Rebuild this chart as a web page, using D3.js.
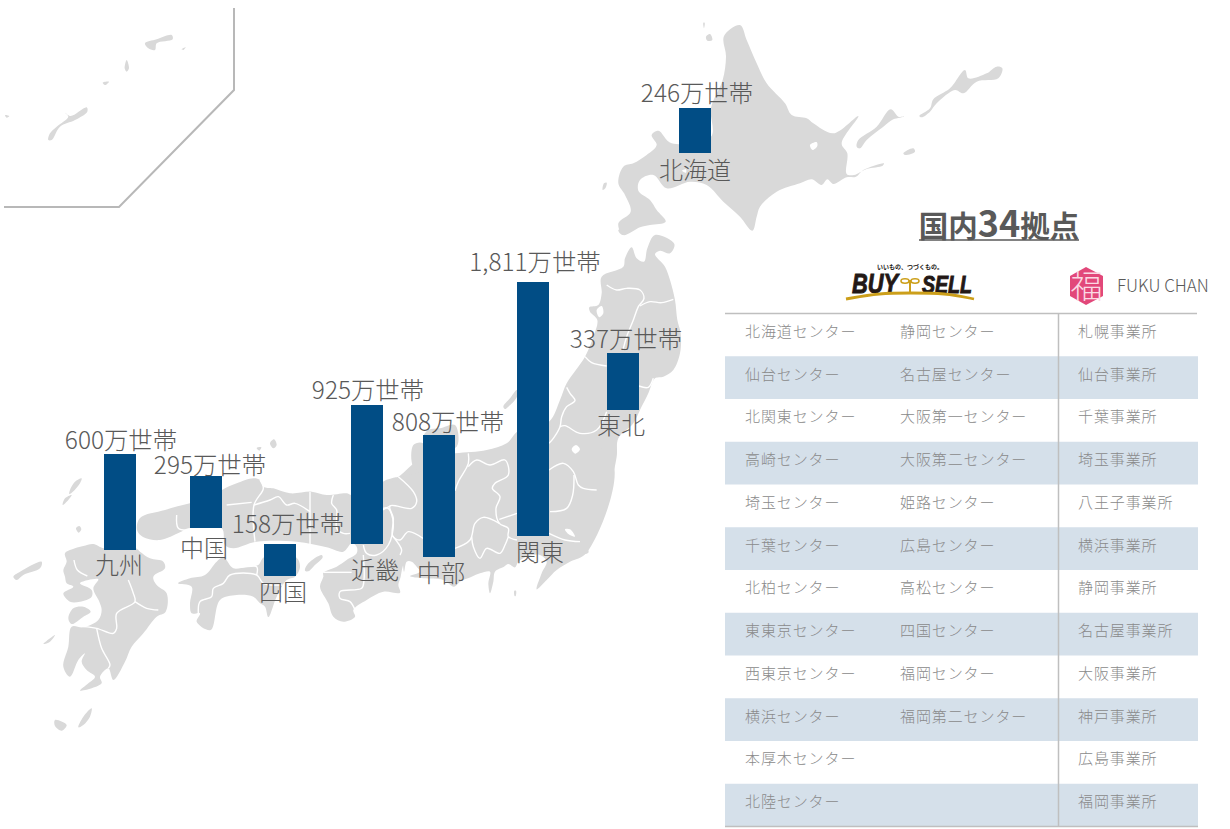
<!DOCTYPE html>
<html lang="ja"><head><meta charset="utf-8">
<script src="https://cdn.jsdelivr.net/npm/d3@7/dist/d3.min.js"></script>
<style>html,body{margin:0;padding:0;background:#fff}svg{display:block}text{font-family:"Noto Sans CJK JP","Noto Sans",sans-serif}</style>
</head><body><svg id="c" width="1230" height="829"></svg>
<script>
// ---- chart data
const regions = ["北海道","東北","関東","中部","近畿","中国","四国","九州"];
const households = [246,337,1811,808,925,295,158,600];
const valueSuffix = "万世帯";
const tableTitle = ["国内","34","拠点"];
const buySellCenters = ["北海道センター","仙台センター","北関東センター","高崎センター","埼玉センター","千葉センター","北柏センター","東東京センター","西東京センター","横浜センター","本厚木センター","北陸センター"];
const buySellCenters2 = ["静岡センター","名古屋センター","大阪第一センター","大阪第二センター","姫路センター","広島センター","高松センター","四国センター","福岡センター","福岡第二センター","",""];
const fukuOffices = ["札幌事業所","仙台事業所","千葉事業所","埼玉事業所","八王子事業所","横浜事業所","静岡事業所","名古屋事業所","大阪事業所","神戸事業所","広島事業所","福岡事業所"];

// ---- placement of each region's bar on the map (layout, not data)
const barLeft   = [679,607,517,423,351,190,264,104];
const barBottom = [153,410,536,557,544,528,576,550];
const valueCx   = [697,626,535,448,368,210,288,121];
const valueBase = [102,348,271,431,399,474,533,449];
const nameCx    = [695,621,540,441,375,204,283,119];
const nameBase  = [179,434,561,582,579,557,601,574];

// ---- base map: coast and border tracings, grouped by tracing sheet [ox, oy] at 3x
const sheetH=[600,20], sheetE=[340,230], sheetC=[380,430], sheetW=[180,470], sheetK=[0,420], sheetO=[0,0];
const land = [
 [sheetH,[[420,15],[372,48],[378,110],[368,180],[333,264],[333,350],[215,370],[175,332],[155,345],[170,375],[140,405],[100,430],[70,440],[55,490],[75,525],[92,575],[55,610],[70,645],[120,622],[150,615],[197,605],[170,570],[150,540],[115,512],[120,480],[160,465],[200,505],[270,485],[320,495],[370,545],[420,590],[457,632],[470,590],[480,560],[530,515],[600,490],[635,478],[665,495],[682,478],[700,492],[740,472],[768,470],[790,450],[852,430],[848,437],[800,447],[762,465],[740,462],[742,400],[725,370],[775,288],[700,340],[640,310],[620,295],[575,285],[555,250],[500,190],[470,130],[440,60]]],
 [sheetH,[[770,380],[775,360],[830,320],[872,268],[895,290],[912,290],[880,298],[850,320],[800,360],[780,385]]],
 [sheetH,[[958,288],[990,265],[1000,238],[1050,205],[1095,150],[1105,175],[1160,160],[1190,140],[1207,145],[1195,175],[1130,185],[1090,220],[1065,210],[1010,250],[990,275],[965,292]]],
 [sheetH,[[910,400],[940,385],[945,395],[915,405]]],
 [sheetH,[[318,50],[330,42],[337,60],[322,62]]],
 [sheetH,[[310,8],[314,8],[312,25]]],
 [sheetH,[[8,510],[12,490],[20,488],[16,505]]],
 [sheetE,[[855,85],[875,52],[890,85],[912,95],[922,55],[945,15],[1003,42],[990,70],[960,62],[945,72],[975,110],[990,150],[1005,210],[1012,270],[1022,310],[1020,370],[1000,420],[970,440],[945,445],[925,490],[900,540],[880,580],[835,625],[830,680],[815,740],[780,790],[745,825],[725,880],[730,930],[745,968],[640,960],[531,960],[531,610],[627,575],[660,510],[680,460],[735,380],[760,320],[772,270],[750,245],[748,232],[775,225],[785,190],[785,140],[850,110]]],
 [sheetE,[[835,0],[868,0],[860,12],[845,14]]],
 [sheetE,[[490,530],[510,505],[530,480],[531,500],[505,530],[495,537]]],
 [sheetC,[[620,368],[570,395],[530,420],[500,450],[470,478],[485,430],[500,395],[480,375],[445,378],[415,395],[405,412],[385,402],[372,410],[345,425],[340,455],[330,490],[325,460],[330,425],[300,430],[275,440],[240,455],[222,470],[190,450],[130,445],[90,438],[120,425],[110,410],[95,395],[80,395],[72,425],[66,385],[55,365],[45,385],[55,400],[40,420],[0,480],[0,165],[40,143],[55,140],[130,80],[225,70],[320,60],[380,40],[420,0],[560,0],[700,100]]],
 [sheetC,[[129,120],[129,40],[100,45],[100,110]]],
 [sheetC,[[403,482],[408,482],[407,498],[404,498]]],
 [sheetE,[[250,620],[265,600],[300,595],[345,585],[350,650],[260,650]]],
 [sheetW,[[-120,144],[-129,180],[-111,201],[-60,210],[0,187],[25,175],[125,175],[135,225],[160,235],[230,215],[350,215],[440,232],[490,245],[515,220],[530,230],[530,250],[500,270],[470,290],[430,308],[430,320],[420,350],[445,400],[460,440],[490,455],[525,440],[520,420],[560,390],[610,365],[660,368],[655,345],[662,320],[668,290],[690,240],[730,240],[730,0],[720,5],[655,25],[630,40],[609,60],[513,75],[500,70],[440,75],[395,65],[330,70],[280,55],[250,50],[240,30],[220,25],[170,40],[126,60],[90,90],[30,100],[-45,120]]],
 [sheetW,[[-6,340],[30,325],[75,315],[110,275],[130,262],[160,295],[200,290],[235,285],[252,262],[348,262],[360,290],[345,320],[320,330],[290,380],[265,441],[255,410],[240,400],[220,380],[170,375],[120,390],[92,480],[50,455],[60,430],[35,430],[30,400],[35,350]]],
 [sheetW,[[375,302],[385,280],[425,255],[428,262],[400,290],[385,304]]],
 [sheetK,[[225,385],[250,378],[280,372],[312,385],[408,385],[420,395],[450,415],[490,425],[495,445],[460,470],[470,495],[500,520],[497,575],[470,590],[430,640],[395,680],[375,725],[340,780],[325,745],[300,770],[305,790],[240,812],[265,790],[285,770],[260,750],[245,725],[255,700],[235,720],[210,770],[190,740],[205,680],[215,620],[250,622],[295,600],[305,570],[298,545],[280,505],[295,478],[265,480],[240,490],[275,510],[275,530],[240,545],[210,545],[190,520],[220,500],[200,490],[195,470],[190,450],[200,425],[195,400]]],
 [sheetK,[[205,595],[220,565],[250,560],[272,575],[250,590],[215,612]]],
 [sheetK,[[245,175],[225,185],[212,205],[208,222],[222,212],[240,190]]],
 [sheetK,[[188,255],[195,235],[215,225],[205,240]]],
 [sheetK,[[228,325],[238,318],[244,328],[236,338]]],
 [sheetK,[[40,470],[60,455],[125,425],[120,445],[70,465],[50,480]]],
 [sheetK,[[130,672],[165,645],[150,665]]],
 [sheetK,[[165,900],[200,915],[185,932],[165,918]]],
 [sheetK,[[275,865],[250,890],[235,922],[250,915],[270,890]]],
 [sheetK,[[810,70],[822,58],[830,75],[820,85]]],
 [sheetK,[[770,84],[784,82],[778,92]]],
 [sheetO,[[145,420],[150,400],[170,380],[205,350],[195,338],[212,348],[260,322],[262,335],[225,360],[180,380],[155,420]]],
 [sheetO,[[435,130],[470,118],[515,105],[518,118],[470,130],[465,150],[445,145]]],
 [sheetO,[[380,180],[387,205],[380,215],[374,205]]],
 [sheetO,[[308,248],[327,245],[315,255]]],
 [sheetO,[[15,345],[28,348],[20,353]]],
 [sheetO,[[545,148],[557,142],[550,150]]]
];
const lakes = [
 [sheetE,[[708,645],[720,658],[706,671],[695,658]]],
 [sheetE,[[770,240],[785,228],[790,250],[778,262]]],
 [sheetC,[[555,298],[570,298],[585,320],[565,312]]],
 [sheetH,[[630,375],[650,366],[652,378],[638,390]]],
 [sheetH,[[246,452],[258,448],[258,458]]]
];
const borders = [
 [sheetE,[[800,165],[830,180],[860,175],[900,180],[912,205],[895,230],[880,270],[860,320],[850,355]]],
 [sheetE,[[900,228],[930,215],[965,218],[1000,208]]],
 [sheetE,[[735,380],[755,398],[800,408]]],
 [sheetE,[[897,468],[925,472],[940,445]]],
 [sheetE,[[680,472],[690,490],[705,512],[680,530],[665,560],[660,590],[640,625],[627,640]]],
 [sheetE,[[660,590],[675,587],[720,610],[770,600],[800,545]]],
 [sheetC,[[507,120],[550,100],[580,125],[595,165],[610,175],[650,180]]],
 [sheetC,[[582,135],[578,195],[560,235],[510,245]]],
 [sheetC,[[507,310],[555,330],[600,335]]],
 [sheetC,[[265,70],[265,100],[235,155],[225,182]]],
 [sheetC,[[265,110],[290,90],[330,105],[375,90],[385,135],[345,160],[337,175],[360,200],[348,235],[358,280],[385,295],[385,320],[411,330]]],
 [sheetC,[[358,268],[411,250]]],
 [sheetC,[[358,280],[310,262],[285,280],[270,330],[225,355]]],
 [sheetC,[[275,320],[280,350],[300,385],[320,355],[360,370],[375,345],[385,320]]],
 [sheetC,[[55,140],[100,185],[110,215],[95,235],[30,228],[40,265],[38,318],[60,330],[85,305],[129,325]]],
 [sheetC,[[38,318],[65,360],[60,375]]],
 [sheetC,[[8,240],[30,228]]],
 [sheetW,[[609,115],[625,115],[640,160],[625,225],[590,255],[560,250],[550,225]]],
 [sheetW,[[550,255],[552,330],[545,355],[480,365],[480,385],[510,395],[525,420]]],
 [sheetW,[[430,307],[515,307]]],
 [sheetW,[[460,75],[455,100],[470,120],[470,175],[490,190],[510,190]]],
 [sheetW,[[390,65],[390,125],[390,235]]],
 [sheetW,[[240,30],[250,55],[222,105],[225,215]]],
 [sheetW,[[140,105],[215,97]]],
 [sheetW,[[222,105],[270,90],[295,80],[320,105],[345,100],[390,125]]],
 [sheetK,[[530,285],[535,325],[570,330]]],
 [sheetK,[[595,580],[600,545],[635,530],[640,505],[670,490],[690,465],[770,465],[790,490],[848,495]]],
 [sheetK,[[700,410],[710,440],[770,440],[770,465]]],
 [sheetK,[[385,480],[400,520],[405,545],[350,580],[350,625],[340,640],[290,625],[250,620]]],
 [sheetK,[[405,545],[440,565],[475,570]]],
 [sheetK,[[290,625],[305,685],[330,735],[325,745]]],
 [sheetK,[[222,420],[232,450],[262,468]]]
];
const inset = [[234,8],[234,90],[119,207],[4,207]];

// ---- drawing
const svg = d3.select("#c");
const sx = o => d3.scaleLinear().domain([0,3]).range([o[0],o[0]+1]);
const sy = o => d3.scaleLinear().domain([0,3]).range([o[1],o[1]+1]);
const trace = (o,closed) => d3.line().x(p=>sx(o)(p[0])).y(p=>sy(o)(p[1])).curve(closed?d3.curveCatmullRomClosed.alpha(0.5):d3.curveCatmullRom.alpha(0.5));

const gMap = svg.append("g");
gMap.selectAll("path.land").data(land).join("path").attr("class","land").attr("d",d=>trace(d[0],true)(d[1])).attr("fill","#d9d9d9");
gMap.selectAll("path.lake").data(lakes).join("path").attr("class","lake").attr("d",d=>trace(d[0],true)(d[1])).attr("fill","#fff");
gMap.selectAll("path.border").data(borders).join("path").attr("class","border").attr("d",d=>trace(d[0],false)(d[1])).attr("fill","none").attr("stroke","#fff").attr("stroke-width",1.4).attr("stroke-linejoin","round");
gMap.append("path").attr("d",d3.line()(inset)).attr("fill","none").attr("stroke","#b8b8b8").attr("stroke-width",2);

// bar length: knots
const h = d3.scaleLinear().domain([158,246,295,337,600,808,925,1811]).range([32,45,52,57,96,122,139,254]);
const fmt = d3.format(",");
const gBars = svg.append("g");
regions.forEach((r,i)=>{
  const len=h(households[i]);
  gBars.append("rect").attr("x",barLeft[i]).attr("width",32).attr("y",barBottom[i]-len).attr("height",len).attr("fill","#014d85");
  gBars.append("text").attr("x",valueCx[i]).attr("y",valueBase[i]).attr("text-anchor","middle").attr("font-size",24.4).attr("fill","#595959").style("font-weight",300).text(fmt(households[i])+valueSuffix);
  gBars.append("text").attr("x",nameCx[i]).attr("y",nameBase[i]).attr("text-anchor","middle").attr("font-size",24).attr("fill","#595959").style("font-weight",300).text(r);
});

// title
const t = svg.append("text").attr("x",999).attr("y",237).attr("text-anchor","middle").attr("fill","#595959").attr("font-weight",700);
t.selectAll("tspan").data(tableTitle).join("tspan").attr("font-size",(d,i)=>i==1?36:29.5).text(d=>d);
svg.append("line").attr("x1",919).attr("x2",1079).attr("y1",240).attr("y2",240).attr("stroke","#595959").attr("stroke-width",1.6);

// logos
const gL = svg.append("g");
const logoFont="'Liberation Sans',sans-serif";
gL.append("text").attr("x",910).attr("y",269).attr("text-anchor","middle").attr("font-size",6).attr("font-weight",700).attr("fill","#231815").text("いいもの、つづくもの。");
gL.append("text").attr("x",852).attr("y",293).attr("font-size",27).attr("font-weight",700).attr("font-style","italic").attr("fill","#231815").attr("stroke","#231815").attr("stroke-width",0.9).style("font-family",logoFont).attr("textLength",46).attr("lengthAdjust","spacingAndGlyphs").text("BUY");
gL.append("text").attr("x",922).attr("y",293).attr("font-size",23).attr("font-weight",700).attr("font-style","italic").attr("fill","#231815").attr("stroke","#231815").attr("stroke-width",0.9).style("font-family",logoFont).attr("textLength",50).attr("lengthAdjust","spacingAndGlyphs").text("SELL");
gL.append("path").attr("d",d3.line().curve(d3.curveBasis)([[846,299],[880,293],[910,293],[945,293],[974,299]])).attr("fill","none").attr("stroke","#cc9f1a").attr("stroke-width",2.8);
gL.append("line").attr("x1",910).attr("x2",910).attr("y1",280).attr("y2",292).attr("stroke","#cc9f1a").attr("stroke-width",2);
gL.append("ellipse").attr("cx",905).attr("cy",281).attr("rx",4).attr("ry",2.2).attr("fill","none").attr("stroke","#cc9f1a").attr("stroke-width",1.6);
gL.append("ellipse").attr("cx",915).attr("cy",281).attr("rx",4).attr("ry",2.2).attr("fill","none").attr("stroke","#cc9f1a").attr("stroke-width",1.6);
gL.append("path").attr("d",d3.line()([[1086,267],[1103,276],[1103,296],[1086,305],[1070,296],[1070,276]])+"Z").attr("fill","#e2487a");
gL.append("text").attr("x",1086.5).attr("y",298).attr("text-anchor","middle").attr("font-size",32).attr("fill","#fbd9e4").style("font-weight",300).text("福");
gL.append("text").attr("x",1117).attr("y",292).attr("font-size",17).attr("fill","#595959").style("font-weight",300).text("FUKU CHAN");

// table
const rows = d3.scaleBand().domain(d3.range(12)).range([313.5,826.5]);
const gT = svg.append("g");
gT.selectAll("rect").data(d3.range(12).filter(i=>i%2)).join("rect").attr("x",725).attr("width",473).attr("y",i=>rows(i)).attr("height",rows.bandwidth()).attr("fill","#d5e0ea");
[[725,313.5,1197,313.5],[725,826.5,1198,826.5],[1058.5,313,1058.5,827]].forEach(l=>gT.append("line").attr("x1",l[0]).attr("y1",l[1]).attr("x2",l[2]).attr("y2",l[3]).attr("stroke","#bfbfbf").attr("stroke-width",1.5));
[[745,buySellCenters],[900,buySellCenters2],[1078,fukuOffices]].forEach(([x,col])=>{
  gT.append("g").selectAll("text").data(col).join("text").attr("x",x).attr("y",(d,i)=>rows(i)+rows.bandwidth()/2-4.5).attr("dominant-baseline","central").attr("font-size",15).attr("letter-spacing",0.9).attr("fill","#8a8a8a").style("font-weight",300).text(d=>d);
});
</script></body></html>
